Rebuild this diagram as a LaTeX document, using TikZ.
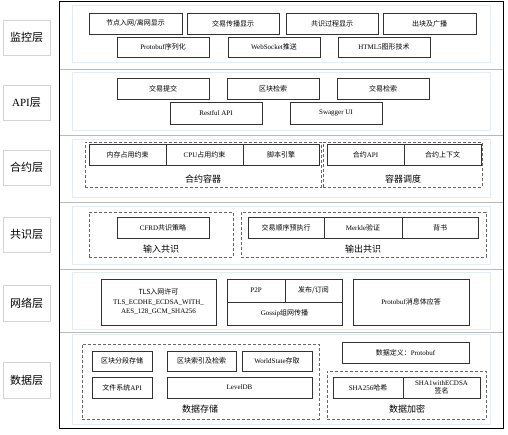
\documentclass[tikz,border=0pt]{standalone}
\usepackage{fontspec}
\setmainfont{Liberation Serif}
\newfontfamily\cjk{Noto Sans CJK SC}
\newcommand\latn[1]{{\rmfamily #1}}
\usetikzlibrary{positioning}

\definecolor{panelline}{RGB}{230,236,247}
\definecolor{sepline}{RGB}{185,185,185}

\tikzset{
  layerlabel/.style={draw=black!17, line width=0.8pt, minimum width=47pt,
    minimum height=35pt, inner sep=0pt, font=\cjk\fontsize{11}{13}\selectfont},
  panel/.style={draw=panelline, line width=0.8pt},
  modbox/.style={draw=black!80, line width=0.9pt, fill=white, inner sep=1pt,
    minimum height=21pt, align=center, font=\cjk\fontsize{7}{9.5}\selectfont},
  groupbox/.style={draw=black!60, line width=0.8pt, dash pattern=on 3pt off 2pt,
    minimum height=45pt, inner sep=0pt},
  grouplabel/.style={font=\cjk\fontsize{9}{10}\selectfont, inner sep=0pt},
}

\begin{document}
\begin{tikzpicture}[x=1pt,y=-1pt]
  \useasboundingbox (0,0) rectangle (508,435);

  % 外框与分隔线
  \foreach \y in {69,135,202,269,332}
    \draw[sepline,line width=0.8pt] (59,\y) -- (503,\y);
  \draw[line width=1pt] (59,2) rectangle (503,428);

  % 各层底板
  \draw[panel] (72,5) rectangle (490,62);
  \draw[panel] (72,72) rectangle (490,130);
  \draw[panel] (72,139) rectangle (490,197);
  \draw[panel] (72,206) rectangle (490,264);
  \draw[panel] (72,272) rectangle (490,329);
  \draw[panel] (72,334) rectangle (490,424);

  % 层名
  \node[layerlabel] (lbmon) at (26.5,37.5) {监控层};
  \node[layerlabel] (lbapi) at (26.5,102.5) {\latn{API}层};
  \node[layerlabel] (lbcon) at (26.5,167.5) {合约层};
  \node[layerlabel] (lbcns) at (26.5,234.5) {共识层};
  \node[layerlabel, minimum height=36pt] (lbnet) at (26.5,303) {网络层};
  \node[layerlabel, minimum height=36pt] (lbdat) at (26.5,380) {数据层};

  % 监控层
  \node[modbox, minimum width=93pt] (mon1) at (135.5,23.5) {节点入网/离网显示};
  \node[modbox, minimum width=92pt] (mon2) at (233,23.5) {交易传播显示};
  \node[modbox, minimum width=92pt] (mon3) at (332,23.5) {共识过程显示};
  \node[modbox, minimum width=93pt] (mon4) at (429.5,23.5) {出块及广播};
  \node[modbox, minimum width=92pt, minimum height=20pt] (mon5) at (163,47) {\latn{Protobuf}序列化};
  \node[modbox, minimum width=92pt, minimum height=20pt] (mon6) at (274,47) {\latn{WebSocket}推送};
  \node[modbox, minimum width=92pt, minimum height=20pt] (mon7) at (384,47) {\latn{HTML5}图形技术};

  % API层
  \node[modbox, minimum width=92pt] (api1) at (163,88.5) {交易提交};
  \node[modbox, minimum width=92pt] (api2) at (273,88.5) {区块检索};
  \node[modbox, minimum width=92pt] (api3) at (383,88.5) {交易检索};
  \node[modbox, minimum width=92pt, minimum height=22pt] (api4) at (216,113) {\latn{Restful API}};
  \node[modbox, minimum width=92pt, minimum height=22pt] (api5) at (336,113) {\latn{Swagger UI}};

  % 合约层
  \node[groupbox, minimum width=236pt] (ctr) at (203,164.5) {};
  \node[groupbox, minimum width=159pt] (sch) at (402.5,164.5) {};
  \node[modbox, minimum width=77pt] (con1) at (127.5,154.5) {内存占用约束};
  \node[modbox, minimum width=77pt] (con2) at (204.5,154.5) {\latn{CPU}占用约束};
  \node[modbox, minimum width=76pt] (con3) at (281,154.5) {脚本引擎};
  \node[modbox, minimum width=77pt] (con4) at (365.5,154.5) {合约\latn{API}};
  \node[modbox, minimum width=77pt] (con5) at (442.5,154.5) {合约上下文};
  \node[grouplabel] (ctrlb) at (203,179) {合约容器};
  \node[grouplabel] (schlb) at (403,179) {容器调度};

  % 共识层
  \node[groupbox, minimum width=144pt] (cin) at (161,234.5) {};
  \node[groupbox, minimum width=245pt] (cout) at (363.5,234.5) {};
  \node[modbox, minimum width=92pt] (cns1) at (163,227.5) {\latn{CFRD}共识策略};
  \node[modbox, minimum width=76pt] (cns2) at (286,227.5) {交易顺序预执行};
  \node[modbox, minimum width=78pt] (cns3) at (363,227.5) {\latn{Merkle}验证};
  \node[modbox, minimum width=76pt] (cns4) at (440,227.5) {背书};
  \node[grouplabel] (cinlb) at (161,249) {输入共识};
  \node[grouplabel] (coutlb) at (363,249) {输出共识};

  % 网络层
  \node[modbox, minimum width=115pt, minimum height=46pt] (net1) at (158.5,302)
    {TLS入网许可\\\latn{TLS\_ECDHE\_ECDSA\_WITH\_}\\\latn{AES\_128\_GCM\_SHA256}};
  \node[modbox, minimum width=58pt, minimum height=23pt] (net2) at (256,290.5) {\latn{P2P}};
  \node[modbox, minimum width=57pt, minimum height=23pt] (net3) at (313.5,290.5) {发布/订阅};
  \node[modbox, minimum width=115pt, minimum height=23pt] (net4) at (284.5,313.5) {\latn{Gossip}组网传播};
  \node[modbox, minimum width=116pt, minimum height=46pt] (net5) at (411,302) {\latn{Protobuf}消息体应答};

  % 数据层
  \node[groupbox, minimum width=237pt, minimum height=75pt] (sto) at (200.5,381.5) {};
  \node[groupbox, minimum width=159pt, minimum height=48pt] (enc) at (406.5,395) {};
  \node[modbox, minimum width=60pt, minimum height=20pt] (dat1) at (122,361) {区块分段存储};
  \node[modbox, minimum width=69pt, minimum height=20pt] (dat2) at (201.5,361) {区块索引及检索};
  \node[modbox, minimum width=70pt, minimum height=20pt] (dat3) at (277,361) {\latn{WorldState}存取};
  \node[modbox, minimum width=60pt] (dat4) at (122,387.5) {文件系统\latn{API}};
  \node[modbox, minimum width=145pt] (dat5) at (239.5,387.5) {\latn{LevelDB}};
  \node[modbox, minimum width=127pt] (dat6) at (405.5,352.5) {数据定义：\latn{Protobuf}};
  \node[modbox, minimum width=70pt] (dat7) at (368,387.5) {\latn{SHA256}哈希};
  \node[modbox, minimum width=77pt, inner sep=0pt] (dat8) at (441.5,387.5) {\latn{SHA1withECDSA}\\[-1.5pt]签名};
  \node[grouplabel] (stolb) at (200,409) {数据存储};
  \node[grouplabel] (enclb) at (407,409) {数据加密};
\end{tikzpicture}
\end{document}
